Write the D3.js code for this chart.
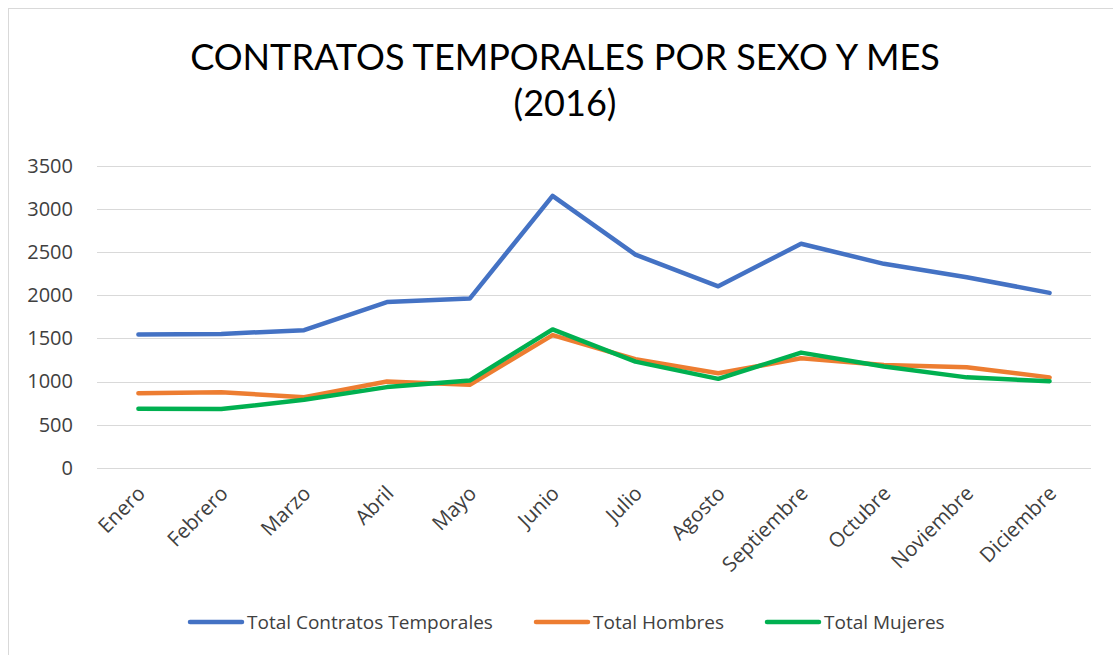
<!DOCTYPE html>
<html><head><meta charset="utf-8">
<script src="https://cdn.jsdelivr.net/npm/d3@7"></script>
<style>html,body{margin:0;padding:0;background:#fff;overflow:hidden}</style>
</head><body>
<svg id="c" width="1113" height="655"></svg>
<script>
const months = ["Enero","Febrero","Marzo","Abril","Mayo","Junio","Julio","Agosto","Septiembre","Octubre","Noviembre","Diciembre"];
const totalContratos = [1545, 1552, 1595, 1922, 1962, 3154, 2472, 2104, 2598, 2365, 2210, 2028];
const totalHombres   = [865, 876, 818, 1000, 962, 1538, 1258, 1095, 1269, 1192, 1165, 1048];
const totalMujeres   = [684, 680, 788, 935, 1011, 1604, 1231, 1031, 1335, 1173, 1048, 1003];
const yTicks = [0, 500, 1000, 1500, 2000, 2500, 3000, 3500];
const seriesNames = ["Total Contratos Temporales", "Total Hombres", "Total Mujeres"];
const seriesColors = ["#4472C4", "#ED7D31", "#00B050"];
const titleLines = ["CONTRATOS TEMPORALES POR SEXO Y MES", "(2016)"];

const series = [totalContratos, totalHombres, totalMujeres].map((v,i)=>({name:seriesNames[i], color:seriesColors[i], values:v}));

const svg = d3.select("#c");
const font = "'Open Sans', sans-serif";
const txtColor = "#404040";

// outer border (only top/left visible)
svg.append("rect").attr("x",8.5).attr("y",8.5).attr("width",1200).attr("height",800)
  .attr("fill","none").attr("stroke","#D9D9D9").attr("stroke-width",1);

const plot = {left:97, right:1091, top:166, bottom:467.7};
const x = d3.scaleBand().domain(months).range([plot.left, plot.right]);
const y = d3.scaleLinear().domain([0,3500]).range([plot.bottom, plot.top]);

// title
const tt = svg.append("text").attr("text-anchor","middle").attr("fill","#000")
  .style("font-family","Lato, sans-serif").style("font-weight","400");
const t1 = tt.append("tspan").attr("x",565).attr("y",70).text(titleLines[0]).style("font-size","36px");
const w1 = t1.node().getComputedTextLength();
const fs = 36*750/w1;
t1.style("font-size",fs+"px");
tt.append("tspan").attr("x",565).attr("y",116).text(titleLines[1]).style("font-size",fs+"px");

// gridlines
svg.append("g").selectAll("line").data(yTicks).join("line")
  .attr("x1",plot.left).attr("x2",plot.right)
  .attr("y1",d=>Math.round(y(d))+0.5).attr("y2",d=>Math.round(y(d))+0.5)
  .attr("stroke","#D9D9D9").attr("stroke-width",1);

// y axis labels
const ya = svg.append("g").attr("transform",`translate(${plot.left},0)`)
  .call(d3.axisLeft(y).tickValues(yTicks).tickFormat(d3.format("d")).tickSize(0).tickPadding(24));
ya.select(".domain").remove();
ya.selectAll("text").style("font-family",font).style("font-size","20px").attr("fill",txtColor);

// x axis labels
const xa = svg.append("g").attr("transform",`translate(0,${plot.bottom})`)
  .call(d3.axisBottom(x).tickSize(0));
xa.select(".domain").remove();
xa.selectAll("text").style("font-family",font).style("font-size","20.5px").attr("fill",txtColor)
  .attr("text-anchor","end").attr("dy",null).attr("y",0)
  .attr("transform","translate(8,27) rotate(-45)");

// lines
const line = d3.line().x((d,i)=>x(months[i])+x.bandwidth()/2).y(d=>y(d));
svg.append("g").selectAll("path").data(series).join("path")
  .attr("d",d=>line(d.values)).attr("fill","none").attr("stroke",d=>d.color)
  .attr("stroke-width",4.5).attr("stroke-linecap","round").attr("stroke-linejoin","round");

// legend
const legX = [190, 536, 767];
const lg = svg.append("g").selectAll("g").data(series).join("g")
  .attr("transform",(d,i)=>`translate(${legX[i]},622)`);
lg.append("line").attr("x1",0).attr("x2",52).attr("y1",0).attr("y2",0)
  .attr("stroke",d=>d.color).attr("stroke-width",4.5).attr("stroke-linecap","round");
lg.append("text").attr("x",57).attr("y",0).attr("dy","0.35em").text(d=>d.name)
  .style("font-family",font).style("font-size","19px").attr("fill",txtColor);
</script>
</body></html>
